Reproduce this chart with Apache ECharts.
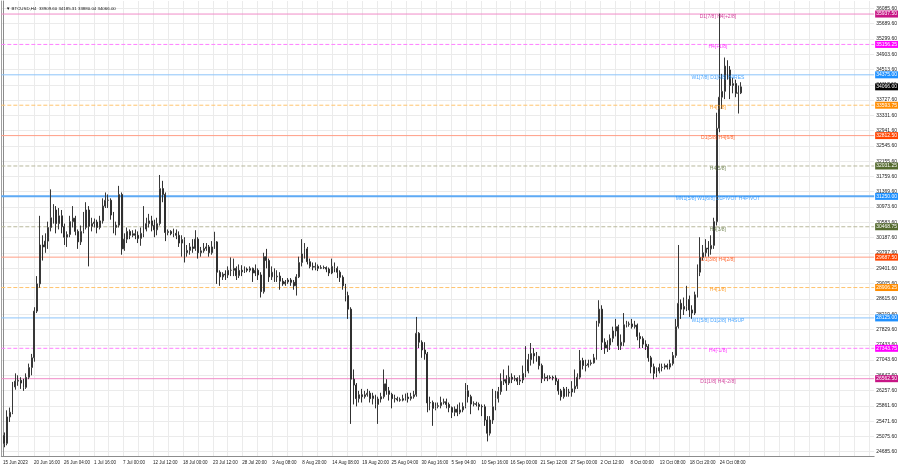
<!DOCTYPE html>
<html><head><meta charset="utf-8">
<script src="https://cdn.jsdelivr.net/npm/echarts@6/dist/echarts.min.js"></script>
<style>html,body{margin:0;padding:0;background:#fff}#c{width:900px;height:468px}</style>
</head><body><div id="c"></div>
<script>
// ---------------- DATA ----------------
const chartTitle = 'BTCUSD,H4  33909.60 34185.31 33880.04 34066.00';
const firstBarUTC = [2023, 5, 15, 0];   // 15 Jun 2023 00:00
const barHours = 12;                     // each candle aggregates 12 hours of the H4 chart
const barOpen = [25100,24900,25580,25700,26350,26500,26520,26450,26340,26600,26850,27100,28300,29000,30000,29950,30100,30450,30700,30900,30550,30750,30470,30200,30270,30600,30690,30350,30080,30350,30450,30900,30480,30550,30590,30450,30620,31000,31150,31150,30770,30450,30510,31300,29900,30150,30350,30250,30290,30250,30170,30300,30410,30550,30620,30500,30390,30550,31450,31300,30320,30350,30290,30300,30250,30050,30140,29800,29860,29950,29910,30150,29800,29850,29910,29950,29800,29950,30080,29300,29180,29250,29230,29350,29350,29400,29210,29350,29310,29380,29350,29400,29280,29350,29230,28800,29700,29600,29180,29300,29180,29200,29070,29000,29050,29100,29040,28950,29180,29550,29770,29900,29570,29450,29430,29450,29400,29420,29420,29380,29280,29450,29400,29300,29170,28950,28700,28350,26550,26400,26050,26150,26100,26150,26190,26050,26120,25900,26040,26100,26430,26250,26160,26050,26050,26020,26010,26050,26090,26050,26100,26150,27730,27500,27300,27200,25940,25950,25800,25850,25870,25950,25970,25900,25820,25700,25780,25700,25760,25850,26250,26100,25910,25920,25900,25850,25840,25500,25160,25500,25840,26050,26230,26500,26540,26450,26600,26550,26570,26500,26530,26700,26760,27050,27210,27150,27130,26900,26570,26600,26580,26600,26580,26500,26250,26100,26300,26200,26220,26300,26370,26600,27030,26900,26910,26950,26970,27100,27990,28350,27500,27350,27430,27600,27790,27900,27410,27500,27950,27960,27970,27900,27940,27650,27590,27450,27390,27100,26870,26700,26760,26850,26860,26900,26860,26950,27160,27900,28500,28350,28420,28600,28330,28250,28720,29300,29680,29800,29920,29900,29990,30600,33000,33800,33950,34600,34500,34100,34150,33900,33910];
const barClose = [24900,25580,25700,26350,26500,26520,26450,26340,26600,26850,27100,28300,29000,30000,29950,30100,30450,30700,30900,30550,30750,30470,30200,30270,30600,30690,30350,30080,30350,30450,30900,30480,30550,30590,30450,30620,31000,31150,31150,30770,30450,30510,31300,29900,30150,30350,30250,30290,30250,30170,30300,30410,30550,30620,30500,30390,30550,31450,31300,30320,30350,30290,30300,30250,30050,30140,29800,29860,29950,29910,30150,29800,29850,29910,29950,29800,29950,30080,29300,29180,29250,29230,29350,29350,29400,29210,29350,29310,29380,29350,29400,29280,29350,29230,28800,29700,29600,29180,29300,29180,29200,29070,29000,29050,29100,29040,28950,29180,29550,29770,29900,29570,29450,29430,29450,29400,29420,29420,29380,29280,29450,29400,29300,29170,28950,28700,28350,26550,26400,26050,26150,26100,26150,26190,26050,26120,25900,26040,26100,26430,26250,26160,26050,26050,26020,26010,26050,26090,26050,26100,26150,27730,27500,27300,27200,25940,25950,25800,25850,25870,25950,25970,25900,25820,25700,25780,25700,25760,25850,26250,26100,25910,25920,25900,25850,25840,25500,25160,25500,25840,26050,26230,26500,26540,26450,26600,26550,26570,26500,26530,26700,26760,27050,27210,27150,27130,26900,26570,26600,26580,26600,26580,26500,26250,26100,26300,26200,26220,26300,26370,26600,27030,26900,26910,26950,26970,27100,27990,28350,27500,27350,27430,27600,27790,27900,27410,27500,27950,27960,27970,27900,27940,27650,27590,27450,27390,27100,26870,26700,26760,26850,26860,26900,26860,26950,27160,27900,28500,28350,28420,28600,28330,28250,28720,29300,29680,29800,29920,29900,29990,30600,33000,33800,33950,34600,34500,34100,34150,33900,33910,34066];
const barLow = [24800,24850,25450,25650,26280,26380,26300,26250,26300,26550,26650,27000,28250,28900,29600,29800,29900,30350,30550,30300,30400,30300,30000,29950,30200,30450,30250,29900,30000,30300,30400,29450,30350,30450,30300,30400,30550,30950,30950,30650,30300,30250,30450,29750,29850,30050,30150,30200,30150,30050,29980,30200,30350,30450,30350,30200,30250,30500,31100,30100,30250,30250,30200,30150,29950,29700,29550,29700,29750,29800,29850,29650,29700,29800,29850,29700,29750,29900,29000,28950,29100,29100,29150,29200,29200,29100,29150,29200,29280,29300,29300,29050,29200,29100,28650,28750,29400,29050,29100,29050,29050,28850,28950,28950,29000,28950,28850,28700,29150,29450,29650,29500,29400,29350,29350,29330,29380,29380,29300,29200,29250,29300,29150,29050,28850,28550,28100,25400,25900,25850,25950,25950,26050,26100,25950,25900,25800,25400,25950,26050,26150,26000,25800,25950,25980,25970,25980,26000,25950,26000,26050,26100,27350,27100,27050,25700,25750,25350,25750,25800,25800,25900,25800,25700,25550,25600,25600,25650,25700,25800,25950,25650,25850,25850,25750,25600,25350,24950,25100,25400,25750,25950,26150,26400,26250,26400,26450,26500,26400,26400,26450,26600,26700,26900,26950,27000,26800,26450,26500,26500,26550,26520,26400,26150,26000,26050,26100,26100,26100,26200,26300,26550,26800,26750,26850,26900,26950,27050,27900,27300,27200,27250,27300,27500,27650,27300,27300,27400,27880,27900,27850,27850,27550,27350,27350,27300,27000,26700,26550,26600,26700,26750,26800,26800,26800,26900,27100,27850,28100,28200,28300,28150,28100,28200,28650,29200,29600,29700,29700,29750,29900,30500,32900,33500,33750,34250,33750,33900,33800,33380,33880];
const barHigh = [25180,25750,25820,26480,26700,26650,26600,26560,26700,26950,27200,28400,29200,30750,30250,30300,30600,31430,31050,31000,30950,30900,30550,30350,30750,31000,30750,30400,30500,30850,31100,31000,30700,30680,30650,30750,31200,31350,31300,31200,30850,30600,31520,31350,30300,30450,30400,30380,30400,30350,30450,31000,30700,30800,30750,30650,30700,31800,31650,31350,30400,30380,30420,30400,30350,30250,30200,30000,30050,30150,30380,30200,29950,30050,30050,30000,30100,30340,30100,29350,29300,29350,29450,29680,29650,29450,29500,29480,29450,29420,29450,29420,29500,29400,29300,29800,29900,29650,29450,29400,29350,29300,29150,29100,29150,29150,29100,29250,29700,30150,30050,29950,29650,29550,29550,29500,29480,29470,29450,29420,29650,29550,29450,29350,29220,29000,28800,28400,26800,26450,26250,26300,26250,26300,26250,26200,26150,26100,26200,26800,26550,26350,26200,26150,26100,26080,26150,26180,26200,26200,26250,28150,27760,27550,27500,27250,26100,26000,25950,25950,26100,26050,26050,25950,25850,25850,25900,25950,25950,26450,26400,26150,25980,25970,25950,25900,25900,25600,25600,26300,26250,26350,26700,26800,26650,26900,26700,26650,26600,26650,26900,27400,27200,27480,27350,27250,27150,26950,26700,26650,26650,26640,26650,26550,26300,26350,26350,26300,26500,26800,26700,27300,27100,27050,27050,27050,27200,28050,28580,28450,27600,27550,27700,27900,28100,27950,27700,28250,28050,28030,28100,28050,27980,27750,27650,27550,27450,27150,26950,26850,26950,26950,26950,26950,27050,27250,28100,30000,28600,28650,28950,28700,28450,28800,29500,30200,30000,30150,30100,30250,30700,33400,35950,34400,34820,34750,34600,34300,34250,34100,34185];
const currentPrice = 34066.00;
const timeTickLabels = ['15 Jun 2023','20 Jun 16:00','26 Jun 04:00','1 Jul 16:00','7 Jul 00:00','12 Jul 12:00','18 Jul 00:00','23 Jul 12:00','28 Jul 20:00','3 Aug 08:00','8 Aug 20:00','14 Aug 08:00','19 Aug 20:00','25 Aug 04:00','30 Aug 16:00','5 Sep 04:00','10 Sep 16:00','16 Sep 00:00','21 Sep 12:00','27 Sep 00:00','2 Oct 12:00','8 Oct 00:00','13 Oct 08:00','18 Oct 20:00','24 Oct 08:00'];
const priceTickLabels = ['36085.60','35689.60','35299.60','34903.60','34513.60','34117.60','33727.60','33331.60','32941.60','32545.60','32155.60','31759.60','31369.60','30973.60','30583.60','30187.60','29797.60','29401.60','29005.60','28615.60','28219.60','27829.60','27433.60','27043.60','26647.60','26257.60','25861.60','25471.60','25075.60','24685.60'];
const levelPrices = [35937.50,35156.25,34375.00,33593.75,32812.50,32031.25,31250.00,30468.75,29687.50,28906.25,28125.00,27343.75,26562.50];
const levelNames = ['D1[7/8] H4[+2/8]','H4[+1/8]','W1[7/8] D1[6/8] H4RES','H4[7/8]','D1[5/8] H4[6/8]','H4[5/8]','MN1[5/8] W1[6/8] D1PIVOT H4PIVOT','H4[3/8]','D1[3/8] H4[2/8]','H4[1/8]','W1[5/8] D1[2/8] H4SUP','H4[-1/8]','D1[1/8] H4[-2/8]'];
const levelLabelTime = '24 Oct 00:00';

// ---------------- STYLES ----------------
const levelStyle = [
  {box:'#c71585', line:'#f08cc8', type:'solid', w:1},
  {box:'#ff00ff', line:'#ff80ff', type:'dashed', w:1},
  {box:'#1e90ff', line:'#8cc4fa', type:'solid', w:1},
  {box:'#ff8c00', line:'#ffc46e', type:'dashed', w:1},
  {box:'#ff4500', line:'#ff9e86', type:'solid', w:1},
  {box:'#556b2f', line:'#b8b89c', type:'dashed', w:1},
  {box:'#1e90ff', line:'#5eaaf5', type:'solid', w:2},
  {box:'#556b2f', line:'#b8b89c', type:'dashed', w:1},
  {box:'#ff4500', line:'#ff9e86', type:'solid', w:1},
  {box:'#ff8c00', line:'#ffc46e', type:'dashed', w:1},
  {box:'#1e90ff', line:'#8cc4fa', type:'solid', w:1},
  {box:'#ff00ff', line:'#ff80ff', type:'dashed', w:1},
  {box:'#c71585', line:'#f08cc8', type:'solid', w:1}
];
const FONT = 'Liberation Sans';
const FS = 5;
const X_MIN = -7.4, X_MAX = 3831, Y_MIN = 24575, Y_MAX = 36273;

// ---------------- BUILD ----------------
const MONTHS = {Jan:0,Feb:1,Mar:2,Apr:3,May:4,Jun:5,Jul:6,Aug:7,Sep:8,Oct:9,Nov:10,Dec:11};
const T0 = Date.UTC(firstBarUTC[0], firstBarUTC[1], firstBarUTC[2], firstBarUTC[3]);
function labelHours(s) {
  const p = s.split(' ');
  const h = p[2].indexOf(':') >= 0 ? +p[2].split(':')[0] : 0;
  return (Date.UTC(firstBarUTC[0], MONTHS[p[1]], +p[0], h) - T0) / 3600000;
}
const tickHours = timeTickLabels.map(labelHours);
const tickTextByHour = {};
tickHours.forEach((h, i) => { tickTextByHour[h] = timeTickLabels[i]; });
// grid lines: at every label and halfway between labels, continuing into the empty right margin
const gridHours = [];
for (let i = 0; i < tickHours.length; i++) {
  gridHours.push(tickHours[i]);
  if (i < tickHours.length - 1) gridHours.push((tickHours[i] + tickHours[i + 1]) / 2);
}
const halfStep = (tickHours[tickHours.length - 1] - tickHours[0]) / (tickHours.length - 1) / 2;
for (let h = tickHours[tickHours.length - 1] + halfStep; h < X_MAX - 5; h += halfStep) gridHours.push(h);

const candles = barOpen.map((o, i) => [i * barHours + barHours / 2, o, barClose[i], barLow[i], barHigh[i]]);
const priceTicks = priceTickLabels.map(Number);
const labelT = labelHours(levelLabelTime);

function levelSeries(price, st, boxColor, z) {
  return {
    type: 'line', silent: true, animation: false, showSymbol: false, symbol: 'none', z: z,
    data: [[X_MIN, price], [X_MAX, price]],
    lineStyle: st,
    endLabel: {show: true, formatter: () => price.toFixed(2), color: '#ffffff', backgroundColor: boxColor,
      fontSize: FS, fontFamily: FONT, padding: [1, 1, 1, 1], lineHeight: 5, distance: 1},
    emphasis: {disabled: true}
  };
}
const levelLines = levelPrices.map((p, i) => levelSeries(p,
  {color: levelStyle[i].line, type: levelStyle[i].type, width: levelStyle[i].w}, levelStyle[i].box, 2));
levelLines.push(levelSeries(currentPrice, {color: '#000', opacity: 0, width: 0}, '#000000', 2));

const levelLabelData = levelPrices.map((p, i) => ({
  value: [labelT, p], name: levelNames[i],
  label: {color: levelStyle[i].box}
}));

const chart = echarts.init(document.getElementById('c'), null, {renderer: 'canvas'});
chart.setOption({
  animation: false,
  backgroundColor: '#ffffff',
  title: {text: '\u25BC ' + chartTitle, left: 1, top: 2,
    textStyle: {fontSize: 4.4, fontWeight: 'normal', color: '#111', fontFamily: FONT}},
  grid: {left: 1, right: 24, top: 1, bottom: 12},
  xAxis: {
    type: 'value', min: X_MIN, max: X_MAX,
    axisLine: {show: true, onZero: false, lineStyle: {color: '#8c8c8c', width: 1}},
    axisTick: {show: false, customValues: gridHours},
    splitLine: {show: true, lineStyle: {color: '#ebebeb', width: 1}},
    axisLabel: {customValues: tickHours, fontSize: 4.5, color: '#222', fontFamily: FONT,
      align: 'left', margin: 4, formatter: v => tickTextByHour[v] || ''}
  },
  yAxis: [{
    type: 'value', position: 'right', min: Y_MIN, max: Y_MAX,
    axisLine: {show: true, lineStyle: {color: '#8c8c8c', width: 1}},
    axisTick: {show: false, customValues: priceTicks},
    splitLine: {show: true, lineStyle: {color: '#ebebeb', width: 1}},
    axisLabel: {customValues: priceTicks, fontSize: FS, color: '#222', fontFamily: FONT, margin: 2,
      formatter: v => v.toFixed(2)}
  }, {
    type: 'value', position: 'left', min: Y_MIN, max: Y_MAX,
    axisLine: {show: true, lineStyle: {color: '#a0a0a0', width: 1}},
    axisTick: {show: false}, axisLabel: {show: false}, splitLine: {show: false}
  }],
  series: levelLines.concat([{
    type: 'candlestick',
    data: candles,
    barWidth: 1.4,
    itemStyle: {color: '#ffffff', color0: '#262626', borderColor: '#383838', borderColor0: '#303030', borderWidth: 1},
    z: 3
  }, {
    type: 'scatter',
    data: levelLabelData,
    symbolSize: 0,
    silent: true,
    z: 4,
    label: {show: true, position: 'bottom', distance: 0, formatter: '{b}', fontSize: FS, fontFamily: FONT}
  }])
});
</script>
</body></html>
